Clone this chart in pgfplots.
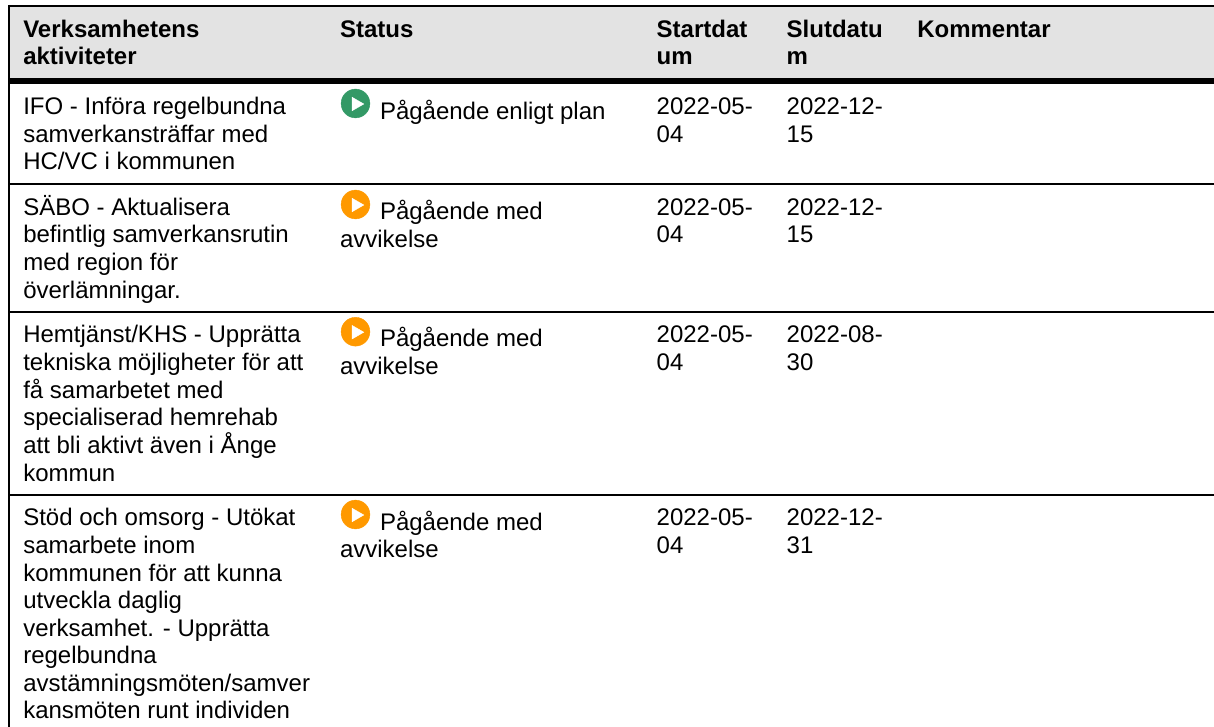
\documentclass[border=0pt]{standalone}
\usepackage{fontspec}
\setmainfont{Liberation Sans}
\usepackage{pgfplots}
\pgfplotsset{compat=1.18}
\definecolor{headgray}{HTML}{E3E3E3}
\definecolor{statgreen}{HTML}{339966}
\definecolor{statorange}{HTML}{FF9900}
\tikzset{celltext/.style={anchor=base west,inner sep=0pt,outer sep=0pt,text=black,font=\fontsize{24}{27.7}\selectfont}}
% one text line, left end of the baseline at (x,y), in image pixels
\newcommand{\cell}[3]{\node[celltext] at (axis cs:#1,#2) {#3};}
\newcommand{\hcell}[3]{\node[celltext] at (axis cs:#1,#2) {\bfseries #3};}
\begin{document}
\begin{tikzpicture}
\path[use as bounding box] (0,0) rectangle (1214pt,727pt);
\begin{axis}[
  at={(0,0)},
  anchor=south west,
  scale only axis,
  width=1214pt,
  height=727pt,
  xmin=0, xmax=1214,
  ymin=0, ymax=727,
  y dir=reverse,
  hide axis,
  clip=true,
]
% header band and rules
\addplot[draw=none,fill=headgray] coordinates {(9,6) (1214,6) (1214,80) (9,80)} -- cycle;
\addplot[black,line width=2pt] coordinates {(8,6) (1214,6)};
\addplot[black,line width=5.5pt] coordinates {(9,80.8) (1214,80.8)};
\addplot[black,line width=1.8pt] coordinates {(9,183.8) (1214,183.8)};
\addplot[black,line width=1.8pt] coordinates {(9,312) (1214,312)};
\addplot[black,line width=1.8pt] coordinates {(9,495) (1214,495)};
\addplot[black,line width=2pt] coordinates {(9,5) (9,727)};
% status icons
\addplot[only marks,mark=*,mark size=14.4pt,statgreen] coordinates {(355.5,103.5)};
\addplot[only marks,mark=*,mark size=14.4pt,statorange] coordinates {(355.5,204.5) (355.5,331.7) (355.5,514.5)};
\addplot[only marks,mark=triangle*,mark size=7.8pt,white,mark options={rotate=-90,fill=white,draw=white}] coordinates {(356,104) (356,205) (356,332.2) (356,515)};
% header
\hcell{23.3}{37.3}{Verksamhetens}
\hcell{23.3}{65}{aktiviteter}
\hcell{340}{37.3}{Status}
\hcell{656.7}{37.3}{Startdat}
\hcell{656.7}{65}{um}
\hcell{786.7}{37.3}{Slutdatu}
\hcell{786.7}{65}{m}
\hcell{917.3}{37.3}{Kommentar}
% row 1
\cell{23.3}{115}{IFO - Införa regelbundna}
\cell{23.3}{142.5}{samverkansträffar med}
\cell{23.3}{170}{HC/VC i kommunen}
\cell{380}{119.3}{Pågående enligt plan}
\cell{656.7}{115}{2022-05-}
\cell{656.7}{142.5}{04}
\cell{786.7}{115}{2022-12-}
\cell{786.7}{142.5}{15}
% row 2
\cell{23.3}{215}{SÄBO - Aktualisera}
\cell{23.3}{242.7}{befintlig samverkansrutin}
\cell{23.3}{270.4}{med region för}
\cell{23.3}{298.1}{överlämningar.}
\cell{380}{220}{Pågående med}
\cell{340}{247.7}{avvikelse}
\cell{656.7}{215}{2022-05-}
\cell{656.7}{242.7}{04}
\cell{786.7}{215}{2022-12-}
\cell{786.7}{242.7}{15}
% row 3
\cell{23.3}{342.7}{Hemtjänst/KHS - Upprätta}
\cell{23.3}{370.4}{tekniska möjligheter för att}
\cell{23.3}{398}{få samarbetet med}
\cell{23.3}{425.7}{specialiserad hemrehab}
\cell{23.3}{453.4}{att bli aktivt även i Ånge}
\cell{23.3}{481}{kommun}
\cell{380}{346.7}{Pågående med}
\cell{340}{374.4}{avvikelse}
\cell{656.7}{342.7}{2022-05-}
\cell{656.7}{370.4}{04}
\cell{786.7}{342.7}{2022-08-}
\cell{786.7}{370.4}{30}
% row 4
\cell{23.3}{525.7}{Stöd och omsorg - Utökat}
\cell{23.3}{553.2}{samarbete inom}
\cell{23.3}{581}{kommunen för att kunna}
\cell{23.3}{608.4}{utveckla daglig}
\cell{23.3}{636}{verksamhet. - Upprätta}
\cell{23.3}{663.4}{regelbundna}
\cell{23.3}{691}{avstämningsmöten/samver}
\cell{23.3}{718.4}{kansmöten runt individen}
\cell{380}{530}{Pågående med}
\cell{340}{557.5}{avvikelse}
\cell{656.7}{525.7}{2022-05-}
\cell{656.7}{553.2}{04}
\cell{786.7}{525.7}{2022-12-}
\cell{786.7}{553.2}{31}
\end{axis}
\end{tikzpicture}
\end{document}
